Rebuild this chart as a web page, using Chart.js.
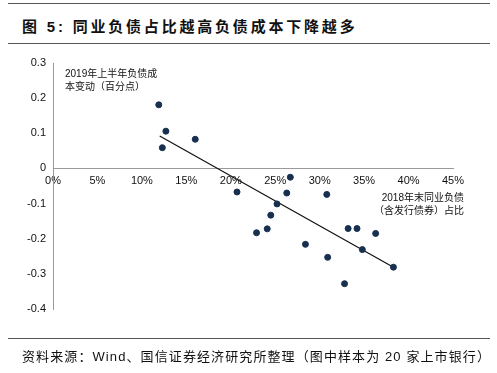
<!DOCTYPE html>
<html>
<head>
<meta charset="utf-8">
<script src="https://cdn.jsdelivr.net/npm/chart.js@4"></script>
<style>
    body { margin: 0; background: #fff; }
    #page { position: relative; width: 497px; height: 373px; overflow: hidden; font-family: "Liberation Sans", "Noto Sans CJK SC", sans-serif; }
    .rule { position: absolute; left: 8px; width: 482px; height: 1px; background: #555; }
    #title { position: absolute; left: 22px; top: 15px; font: bold 15px "Liberation Sans", "Noto Sans CJK SC", sans-serif; letter-spacing: 2.8px; color: #111; white-space: nowrap; }
    #source { position: absolute; left: 22px; top: 346px; font-size: 13px; letter-spacing: 1.1px; color: #111; white-space: nowrap; }
    .note { position: absolute; font-size: 10px; line-height: 13px; color: #111; white-space: nowrap; }
    #chart { position: absolute; left: 0; top: 0; }
</style>
</head>
<body>
<div id="page">
    <div class="rule" style="top:3px"></div>
    <div id="title">图&nbsp;5:&nbsp;同业负债占比越高负债成本下降越多</div>
    <div class="rule" style="top:43px"></div>
    <canvas id="chart" width="497" height="373"></canvas>
    <div class="note" style="left:65px; top:67px">2019年上半年负债成<br>本变动（百分点）</div>
    <div class="note" style="left:360px; top:191px; text-align:right; width:104px">2018年末同业负债<br>（含发行债券）占比</div>
    <div class="rule" style="top:338px"></div>
    <div id="source">资料来源：Wind、国信证券经济研究所整理（图中样本为 20 家上市银行）</div>
</div>
<script>
// 2018年末同业负债占比（%）
const interbankShare = [11.9, 12.7, 12.3, 16.0, 20.7, 26.7, 26.3, 30.8, 25.2, 24.5, 22.9, 24.1, 28.4, 30.9, 33.2, 34.2, 36.3, 34.8, 32.8, 38.3];
// 2019年上半年负债成本变动（百分点）
const costChange = [0.181, 0.106, 0.059, 0.083, -0.067, -0.025, -0.070, -0.074, -0.101, -0.133, -0.183, -0.172, -0.216, -0.253, -0.171, -0.171, -0.185, -0.231, -0.328, -0.281];
// 趋势线两端
const trendX = [12.0, 38.3];
const trendY = [0.092, -0.281];

const xTicks = [0, 5, 10, 15, 20, 25, 30, 35, 40, 45];
const yTicks = [-0.4, -0.3, -0.2, -0.1, 0, 0.1, 0.2, 0.3];

const banks = interbankShare.map((x, i) => ({ x: x, y: costChange[i] }));
const trend = trendX.map((x, i) => ({ x: x, y: trendY[i] }));

const tickFont = { family: '"Liberation Sans", Arial, sans-serif', size: 11 };

new Chart(document.getElementById('chart'), {
    type: 'scatter',
    data: {
        datasets: [
            {
                label: '银行',
                data: banks,
                backgroundColor: '#17304f',
                borderColor: '#17304f',
                pointRadius: 3,
                pointHoverRadius: 3
            },
            {
                type: 'line',
                label: '趋势线',
                data: trend,
                borderColor: '#111',
                borderWidth: 1.2,
                pointRadius: 0,
                fill: false
            }
        ]
    },
    options: {
        responsive: false,
        animation: false,
        layout: { padding: { left: 0, top: 63, right: 44, bottom: 64 } },
        plugins: { legend: { display: false }, tooltip: { enabled: false } },
        scales: {
            x: {
                type: 'linear',
                position: { y: 0 },
                min: 0,
                max: 45,
                afterBuildTicks: s => { s.ticks = xTicks.map(v => ({ value: v })); },
                ticks: {
                    font: tickFont,
                    color: '#111',
                    maxRotation: 0,
                    padding: 2,
                    callback: v => v + '%'
                },
                grid: { display: false, drawTicks: true, tickLength: 4, tickColor: '#999' },
                border: { color: '#999' }
            },
            y: {
                type: 'linear',
                min: -0.4,
                max: 0.3,
                afterFit: s => { s.width = 53; },
                afterBuildTicks: s => { s.ticks = yTicks.map(v => ({ value: v })); },
                ticks: {
                    font: tickFont,
                    color: '#111',
                    padding: 3,
                    callback: v => String(Math.round(v * 10) / 10)
                },
                grid: { display: false, drawTicks: true, tickLength: 4, tickColor: '#999' },
                border: { color: '#999' }
            }
        }
    }
});
</script>
</body>
</html>
